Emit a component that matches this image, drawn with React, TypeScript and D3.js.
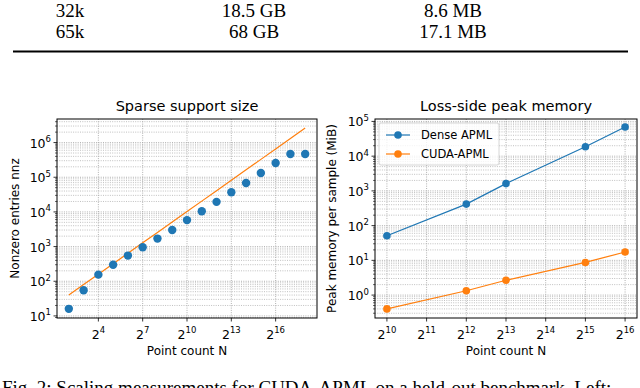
import React, { useEffect, useRef } from "react";
import * as d3 from "d3";

// table rows above the figure (N, dense, cuda)
const tableRows = [
  ["32k", "18.5 GB", "8.6 MB"],
  ["65k", "68 GB", "17.1 MB"],
];

// left panel: sparse support size
const sparseN = [4, 8, 16, 32, 64, 128, 256, 512, 1024, 2048, 4096, 8192, 16384, 32768, 65536, 131072, 262144];
const sparseNnz = [16, 55, 155, 300, 550, 960, 1700, 3000, 5800, 10500, 19500, 37000, 68000, 132000, 258000, 470000, 470000];
const refNnz = [40, 80, 160, 320, 640, 1280, 2560, 5120, 10240, 20480, 40960, 81920, 163840, 327680, 655360, 1310720, 2621440];
const sparseXTicks = [4, 7, 10, 13, 16];

// right panel: loss-side peak memory (MiB)
const memN = [1024, 4096, 8192, 32768, 65536];
const denseMiB = [51, 417, 1620, 18600, 69000];
const cudaMiB = [0.4, 1.33, 2.68, 8.7, 17.4];
const memXTicks = [10, 11, 12, 13, 14, 15, 16];
const seriesNames = ["Dense APML", "CUDA-APML"];

const caption = "Fig. 2: Scaling measurements for CUDA-APML on a held-out benchmark. Left:";

const W = 640;
const H = 388;
const sans = "DejaVu Sans, sans-serif";
const serif = "Liberation Serif, Times New Roman, serif";
const blue = "#1f77b4";
const orange = "#ff7f0e";

type Panel = {
  left: number;
  right: number;
  top: number;
  bottom: number;
  xDomain: [number, number];
  yDomain: [number, number];
  xTicks: number[];
  title: string;
  yLabel: string;
  yLabelX: number;
};

function drawPanel(svg: any, p: Panel) {
  const x = d3.scaleLog().base(2).domain(p.xDomain).range([p.left, p.right]);
  const y = d3.scaleLog().domain(p.yDomain).range([p.bottom, p.top]);

  const grid = svg.append("g");
  // y grid: majors and minors
  const k0 = Math.floor(Math.log10(p.yDomain[0]));
  const k1 = Math.ceil(Math.log10(p.yDomain[1]));
  const majors: number[] = [];
  const minors: number[] = [];
  for (let k = k0; k <= k1; k++) {
    const v = Math.pow(10, k);
    if (v >= p.yDomain[0] && v <= p.yDomain[1]) majors.push(k);
    for (let m = 2; m <= 9; m++) {
      const mv = m * v;
      if (mv >= p.yDomain[0] && mv <= p.yDomain[1]) minors.push(mv);
    }
  }
  minors.forEach((v) => {
    grid.append("line")
      .attr("x1", p.left).attr("x2", p.right)
      .attr("y1", y(v)).attr("y2", y(v))
      .attr("stroke", "#b0b0b0").attr("stroke-width", 0.8)
      .attr("stroke-dasharray", "1,1.3");
  });
  majors.forEach((k) => {
    const yy = y(Math.pow(10, k));
    grid.append("line")
      .attr("x1", p.left).attr("x2", p.right)
      .attr("y1", yy).attr("y2", yy)
      .attr("stroke", "#a8a8a8").attr("stroke-width", 0.9)
      .attr("stroke-dasharray", "1,1.3");
  });
  p.xTicks.forEach((e) => {
    const xx = x(Math.pow(2, e));
    grid.append("line")
      .attr("x1", xx).attr("x2", xx)
      .attr("y1", p.top).attr("y2", p.bottom)
      .attr("stroke", "#a8a8a8").attr("stroke-width", 0.9)
      .attr("stroke-dasharray", "1,1.3");
  });

  // frame
  svg.append("rect")
    .attr("x", p.left).attr("y", p.top)
    .attr("width", p.right - p.left).attr("height", p.bottom - p.top)
    .attr("fill", "none").attr("stroke", "black").attr("stroke-width", 1);

  // y ticks
  minors.forEach((v) => {
    svg.append("line")
      .attr("x1", p.left - 2).attr("x2", p.left)
      .attr("y1", y(v)).attr("y2", y(v))
      .attr("stroke", "black").attr("stroke-width", 0.6);
  });
  majors.forEach((k) => {
    const yy = y(Math.pow(10, k));
    svg.append("line")
      .attr("x1", p.left - 3.5).attr("x2", p.left)
      .attr("y1", yy).attr("y2", yy)
      .attr("stroke", "black").attr("stroke-width", 0.8);
    const t = svg.append("text")
      .attr("x", p.left - 6).attr("y", yy + 5)
      .attr("text-anchor", "end")
      .attr("font-family", sans).attr("font-size", 12.5);
    t.append("tspan").text("10");
    t.append("tspan").attr("dy", -5.5).attr("font-size", 8.5).text(String(k));
  });

  // x ticks
  p.xTicks.forEach((e) => {
    const xx = x(Math.pow(2, e));
    svg.append("line")
      .attr("x1", xx).attr("x2", xx)
      .attr("y1", p.bottom).attr("y2", p.bottom + 3.5)
      .attr("stroke", "black").attr("stroke-width", 0.8);
    const t = svg.append("text")
      .attr("x", xx).attr("y", p.bottom + 20.5)
      .attr("text-anchor", "middle")
      .attr("font-family", sans).attr("font-size", 12.5);
    t.append("tspan").text("2");
    t.append("tspan").attr("dy", -5.5).attr("font-size", 8.5).text(String(e));
  });

  // title and labels
  svg.append("text")
    .attr("x", (p.left + p.right) / 2).attr("y", 111)
    .attr("text-anchor", "middle")
    .attr("font-family", sans).attr("font-size", 14.5)
    .text(p.title);
  svg.append("text")
    .attr("x", (p.left + p.right) / 2).attr("y", 355)
    .attr("text-anchor", "middle")
    .attr("font-family", sans).attr("font-size", 12)
    .text("Point count N");
  svg.append("text")
    .attr("transform", `translate(${p.yLabelX},${(p.top + p.bottom) / 2}) rotate(-90)`)
    .attr("text-anchor", "middle")
    .attr("dy", "0.35em")
    .attr("font-family", sans).attr("font-size", 12)
    .text(p.yLabel);

  return { x, y };
}

const App = () => {
  const svgRef = useRef<SVGSVGElement>(null);

  useEffect(() => {
    if (!svgRef.current) return;
    const svg = d3.select(svgRef.current);
    svg.selectAll("*").remove();

    svg.append("rect").attr("width", W).attr("height", H).attr("fill", "white");

    // table fragment
    const colX = [70, 254, 453];
    tableRows.forEach((row, i) => {
      row.forEach((cell, j) => {
        svg.append("text")
          .attr("x", colX[j]).attr("y", 17 + i * 21)
          .attr("text-anchor", "middle")
          .attr("font-family", serif).attr("font-size", 19)
          .text(cell);
      });
    });
    svg.append("line")
      .attr("x1", 13).attr("x2", 628)
      .attr("y1", 51.5).attr("y2", 51.5)
      .attr("stroke", "black").attr("stroke-width", 2);

    // left panel
    const L = drawPanel(svg, {
      left: 57, right: 317, top: 119, bottom: 318,
      xDomain: [Math.pow(2, 1.2), Math.pow(2, 18.8)],
      yDomain: [Math.pow(10, 0.94), Math.pow(10, 6.68)],
      xTicks: sparseXTicks,
      title: "Sparse support size",
      yLabel: "Nonzero entries nnz",
      yLabelX: 15,
    });
    const refLine = d3.line<number>()
      .x((_, i) => L.x(sparseN[i]))
      .y((d) => L.y(d));
    svg.append("path")
      .datum(refNnz)
      .attr("fill", "none").attr("stroke", orange).attr("stroke-width", 1.2)
      .attr("d", refLine);
    svg.append("g")
      .selectAll("circle")
      .data(sparseNnz)
      .join("circle")
      .attr("cx", (_, i) => L.x(sparseN[i]))
      .attr("cy", (d) => L.y(d))
      .attr("r", 4.2)
      .attr("fill", blue);

    // right panel
    const R = drawPanel(svg, {
      left: 375, right: 637, top: 119, bottom: 318,
      xDomain: [Math.pow(2, 9.7), Math.pow(2, 16.3)],
      yDomain: [Math.pow(10, -0.66), Math.pow(10, 5.07)],
      xTicks: memXTicks,
      title: "Loss-side peak memory",
      yLabel: "Peak memory per sample (MiB)",
      yLabelX: 332,
    });
    [denseMiB, cudaMiB].forEach((vals, s) => {
      const color = s === 0 ? blue : orange;
      const line = d3.line<number>()
        .x((_, i) => R.x(memN[i]))
        .y((d) => R.y(d));
      svg.append("path")
        .datum(vals)
        .attr("fill", "none").attr("stroke", color).attr("stroke-width", 1.2)
        .attr("d", line);
      svg.append("g")
        .selectAll("circle")
        .data(vals)
        .join("circle")
        .attr("cx", (_, i) => R.x(memN[i]))
        .attr("cy", (d) => R.y(d))
        .attr("r", 3.8)
        .attr("fill", color);
    });

    // legend
    const lg = svg.append("g");
    lg.append("rect")
      .attr("x", 379).attr("y", 123).attr("width", 120).attr("height", 42)
      .attr("rx", 2)
      .attr("fill", "white").attr("fill-opacity", 0.8)
      .attr("stroke", "#cccccc").attr("stroke-width", 0.8);
    seriesNames.forEach((name, i) => {
      const color = i === 0 ? blue : orange;
      const yy = 135 + i * 19;
      lg.append("line")
        .attr("x1", 386).attr("x2", 410).attr("y1", yy).attr("y2", yy)
        .attr("stroke", color).attr("stroke-width", 1.2);
      lg.append("circle").attr("cx", 398).attr("cy", yy).attr("r", 3.8).attr("fill", color);
      lg.append("text")
        .attr("x", 421).attr("y", yy + 4.2)
        .attr("font-family", sans).attr("font-size", 11.5)
        .text(name);
    });

    // caption (cut off at the bottom edge, as in the source page)
    svg.append("text")
      .attr("x", 2).attr("y", 394)
      .attr("font-family", serif).attr("font-size", 19)
      .text(caption);
  }, []);

  return (
    <svg
      ref={svgRef}
      width={W}
      height={H}
      style={{ position: "absolute", left: 0, top: 0 }}
    ></svg>
  );
};

export default App;
